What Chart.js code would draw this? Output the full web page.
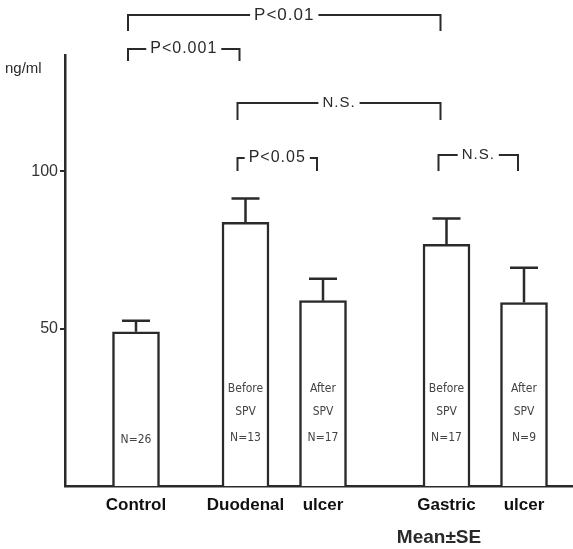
<!DOCTYPE html>
<html>
<head>
<meta charset="utf-8">
<script src="https://cdn.jsdelivr.net/npm/chart.js@4/dist/chart.umd.min.js"></script>
<style>
  html, body { margin: 0; padding: 0; background: #fff; }
  #wrap { width: 573px; height: 549px; }
</style>
</head>
<body>
<div id="wrap"><canvas id="Chart" width="573" height="549"></canvas></div>
<script>
// data
var categories = ['Control', 'Duodenal', 'ulcer', 'Gastric', 'ulcer'];
var means = [49.0, 83.8, 58.9, 76.8, 58.3];
var errors = [3.5, 7.6, 7.0, 8.2, 11.1];
var barNotes = [['N=26'], ['Before', 'SPV', 'N=13'], ['After', 'SPV', 'N=17'], ['Before', 'SPV', 'N=17'], ['After', 'SPV', 'N=9']];
var yTicks = [50, 100];
var comparisons = [
  { from: 0, to: 3, label: 'P<0.01' },
  { from: 0, to: 1, label: 'P<0.001' },
  { from: 1, to: 3, label: 'N.S.' },
  { from: 1, to: 2, label: 'P<0.05' },
  { from: 3, to: 4, label: 'N.S.' }
];

// layout (pixels)
var slotX = [71, 180.5, 258, 381.5, 459];   // bar centres along x axis
var bracketY = [15, 49, 103, 158, 155];
var bracketDrop = [16, 12, 17, 13, 16];
var bracketFont = [17, 16, 15, 16, 15];
var ink = '#2a2a2a';
var noteFont = "12px 'Liberation Sans Narrow', 'DejaVu Sans Condensed', sans-serif";

var overlay = {
  id: 'overlay',
  afterDatasetsDraw: function (chart) {
    var c = chart.ctx;
    var xs = chart.scales.x, ys = chart.scales.y;
    var bottom = chart.chartArea.bottom;
    c.save();
    c.strokeStyle = ink;
    c.fillStyle = ink;
    c.lineWidth = 2.5;

    // error bars
    for (var i = 0; i < means.length; i++) {
      var cx = xs.getPixelForValue(slotX[i]);
      var y0 = ys.getPixelForValue(means[i]);
      var y1 = ys.getPixelForValue(means[i] + errors[i]);
      c.beginPath();
      c.moveTo(cx, y0); c.lineTo(cx, y1);
      c.moveTo(cx - 14, y1); c.lineTo(cx + 14, y1);
      c.stroke();
    }

    // notes inside bars
    c.font = noteFont;
    c.textAlign = 'center';
    c.textBaseline = 'middle';
    c.fillStyle = '#444';
    var offs = { 1: [46], 3: [97, 74, 48] };
    for (var j = 0; j < barNotes.length; j++) {
      var lines = barNotes[j];
      var o = offs[lines.length];
      var bx = xs.getPixelForValue(slotX[j]);
      for (var k = 0; k < lines.length; k++) {
        c.fillText(lines[k], bx, bottom - o[k]);
      }
    }

    // significance brackets
    c.fillStyle = ink;
    c.lineWidth = 2;
    c.letterSpacing = '1px';
    comparisons.forEach(function (cmp, n) {
      var xa = xs.getPixelForValue(slotX[cmp.from]) - 8;
      var xb = xs.getPixelForValue(slotX[cmp.to]) - 6;
      var y = bracketY[n];
      c.font = bracketFont[n] + "px 'Liberation Sans', Arial, sans-serif";
      var w = c.measureText(cmp.label).width;
      var mid = (xa + xb) / 2;
      c.beginPath();
      c.moveTo(xa, y + bracketDrop[n]); c.lineTo(xa, y); c.lineTo(mid - w / 2 - 4, y);
      c.moveTo(mid + w / 2 + 4, y); c.lineTo(xb, y); c.lineTo(xb, y + bracketDrop[n]);
      c.stroke();
      c.fillText(cmp.label, mid, y);
    });
    c.letterSpacing = '0px';

    // unit and footnote
    c.font = "15px 'Liberation Sans', Arial, sans-serif";
    c.textAlign = 'left';
    c.fillText('ng/ml', 5, 69);
    c.font = "bold 19px 'Liberation Sans', Arial, sans-serif";
    c.textAlign = 'center';
    c.fillText('Mean\u00b1SE', 439, 538);
    c.restore();
  }
};

var ctx = document.getElementById('Chart').getContext('2d');
var myChart = new Chart(ctx, {
  type: 'bar',
  data: {
    datasets: [{
      data: means.map(function (v, i) { return { x: slotX[i], y: v }; }),
      backgroundColor: '#ffffff',
      borderColor: ink,
      borderWidth: 2.5,
      barThickness: 47
    }]
  },
  options: {
    responsive: false,
    animation: false,
    layout: { padding: { top: 55, left: 0, right: 0, bottom: 0 } },
    plugins: { legend: { display: false }, tooltip: { enabled: false } },
    scales: {
      x: {
        type: 'linear',
        offset: false,
        min: 0,
        max: 508,
        afterFit: function (s) { s.height = 63; },
        afterBuildTicks: function (s) { s.ticks = slotX.map(function (v) { return { value: v }; }); },
        grid: { display: false, drawTicks: false, offset: false },
        border: { display: true, color: ink, width: 2.5 },
        ticks: {
          padding: 9,
          color: '#111',
          font: { family: "'Liberation Sans', Arial, sans-serif", size: 17, weight: 'bold' },
          callback: function (v, i) { return categories[i]; }
        }
      },
      y: {
        min: 0,
        max: 137,
        afterFit: function (s) { s.width = 65; },
        afterBuildTicks: function (s) { s.ticks = yTicks.map(function (v) { return { value: v }; }); },
        grid: { drawOnChartArea: false, drawTicks: true, tickLength: 5, color: ink, lineWidth: 2 },
        border: { display: true, color: ink, width: 2.5 },
        ticks: {
          padding: 2,
          color: '#333',
          font: { family: "'Liberation Sans', Arial, sans-serif", size: 16 }
        }
      }
    }
  },
  plugins: [overlay]
});
</script>
</body>
</html>
